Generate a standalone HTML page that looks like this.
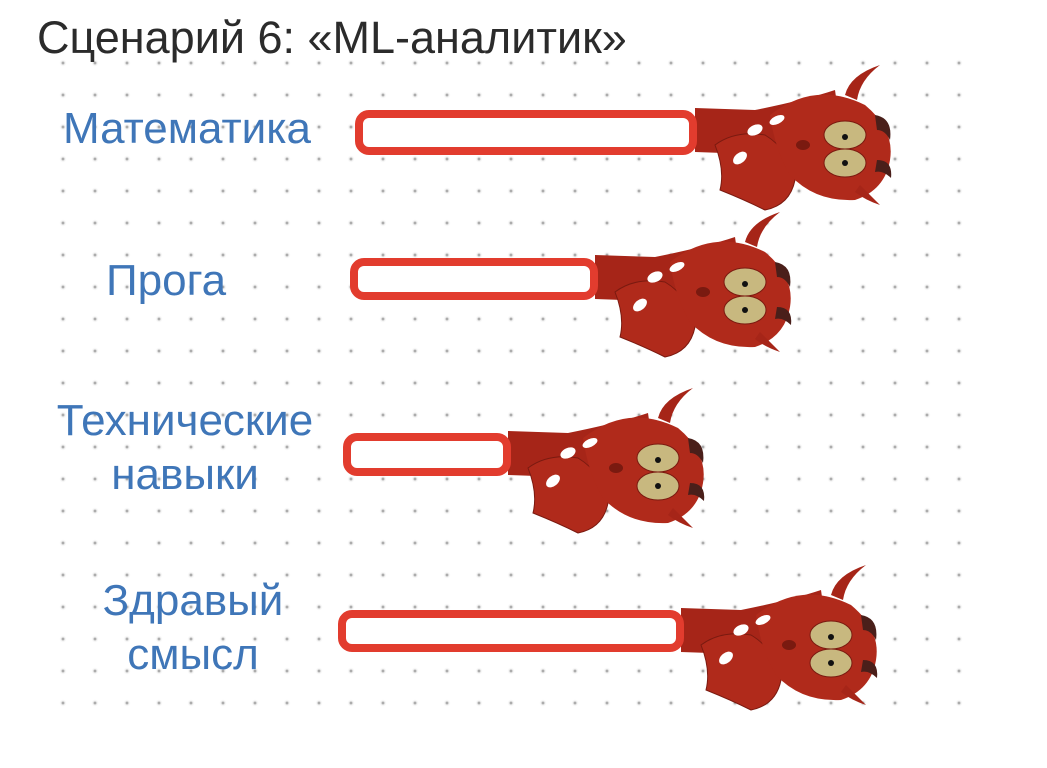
<!DOCTYPE html>
<html><head><meta charset="utf-8"><style>
html,body{margin:0;padding:0;background:#fff}
body{width:1047px;height:768px;position:relative;overflow:hidden;font-family:"Liberation Sans","Noto Sans CJK SC",sans-serif}
.grid{position:absolute;left:47px;top:47px;width:929px;height:673px;
background-image:radial-gradient(circle,#999 0,#aaa 0.8px,rgba(210,210,210,.3) 2px,rgba(255,255,255,0) 3.5px);
background-size:32px 32px;background-position:0 0}
.t{position:absolute;font-size:45px;color:#2b2b2b;left:37px;top:12px;white-space:nowrap}
.l{position:absolute;color:#3f76b8;font-size:44px;text-align:center;line-height:54px;white-space:nowrap}
svg{position:absolute;left:0;top:0}
</style></head><body>
<div class="grid"></div>
<div class="t">Сценарий 6: «ML-аналитик»</div>
<div class="l" style="left:63px;top:102px">Математика</div>
<div class="l" style="left:106px;top:254px">Прога</div>
<div class="l" style="left:50px;top:394px;width:270px">Технические<br>навыки</div>
<div class="l" style="left:93px;top:574px;width:200px">Здравый<br>смысл</div>
<svg width="1047" height="768" viewBox="0 0 1047 768">
<defs>
<g id="cr">
<path d="M0,-22 L60,-20 Q110,-30 140,-40 L150,30 Q90,25 0,22 Z" fill="#a62518"/>
<path d="M20,15 Q40,0 70,5 Q95,20 100,50 Q95,75 70,80 Q50,70 25,60 Q30,40 20,15 Z" fill="#b02a1b" stroke="#7a1a10" stroke-width="1"/>
<path d="M75,-15 Q120,-50 170,-25 Q200,0 195,30 Q190,60 160,70 Q120,72 95,45 Q80,20 75,-15 Z" fill="#b02a1b"/>
<path d="M150,-35 Q155,-55 185,-65 Q165,-50 162,-30 Z" fill="#a62518"/>
<path d="M180,-15 Q198,-12 195,10 Q190,0 182,0 Z" fill="#4a1f1a"/>
<path d="M182,30 Q198,30 196,48 Q188,40 180,42 Z" fill="#4a1f1a"/>
<path d="M165,55 Q175,65 185,75 Q170,70 160,62 Z" fill="#a62518"/>
<ellipse cx="60" cy="0" rx="8" ry="5" fill="#fff" transform="rotate(-25 60 0)"/>
<ellipse cx="82" cy="-10" rx="8" ry="4" fill="#fff" transform="rotate(-25 82 -10)"/>
<ellipse cx="45" cy="28" rx="8" ry="5" fill="#fff" transform="rotate(-40 45 28)"/>
<ellipse cx="108" cy="15" rx="7" ry="5" fill="#7a1a10"/>
<ellipse cx="150" cy="5" rx="21" ry="14" fill="#c8b87f" stroke="#7a1a10"/>
<ellipse cx="150" cy="33" rx="21" ry="14" fill="#c8b87f" stroke="#7a1a10"/>
<circle cx="150" cy="7" r="3" fill="#111"/>
<circle cx="150" cy="33" r="3" fill="#111"/>
</g>
</defs>
<use href="#cr" transform="translate(695,130)"/>
<rect x="359" y="114" width="334" height="37" rx="10" fill="#fff" stroke="#e23c2e" stroke-width="8"/>
<use href="#cr" transform="translate(595,277)"/>
<rect x="354" y="262" width="240" height="34" rx="10" fill="#fff" stroke="#e23c2e" stroke-width="8"/>
<use href="#cr" transform="translate(508,453)"/>
<rect x="347" y="437" width="160" height="35" rx="10" fill="#fff" stroke="#e23c2e" stroke-width="8"/>
<use href="#cr" transform="translate(681,630)"/>
<rect x="342" y="614" width="338" height="34" rx="10" fill="#fff" stroke="#e23c2e" stroke-width="8"/>
</svg>
</body></html>
